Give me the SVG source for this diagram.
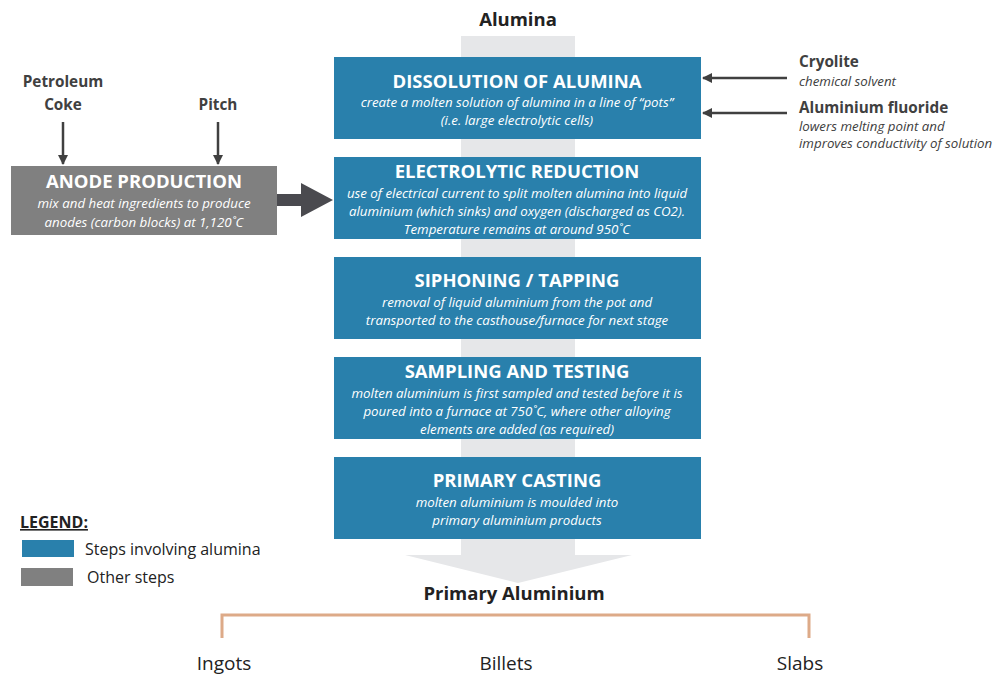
<svg xmlns="http://www.w3.org/2000/svg" width="999" height="675" viewBox="0 0 999 675">
<style>
.step{fill:#2980AC}
.other{fill:#808080}
.ttl{font-family:"Open Sans","Liberation Sans",sans-serif;font-weight:bold;font-size:18.5px;fill:#fff;text-anchor:middle}
.sub{font-family:"Open Sans","Liberation Sans",sans-serif;font-style:italic;font-size:13.3px;fill:#fff;text-anchor:middle}
.lbl{font-family:"Open Sans","Liberation Sans",sans-serif;font-weight:bold;font-size:15.3px;fill:#404040}
.lsub{font-family:"Open Sans","Liberation Sans",sans-serif;font-style:italic;font-size:13.3px;fill:#404040}
.big{font-family:"Open Sans","Liberation Sans",sans-serif;font-weight:bold;font-size:18.5px;fill:#222;text-anchor:middle}
.prod{font-family:"Open Sans","Liberation Sans",sans-serif;font-size:19px;fill:#222;text-anchor:middle}
.leg{font-family:"Open Sans","Liberation Sans",sans-serif;font-size:16px;fill:#222}
.conn{stroke:#404040;stroke-width:2.5;fill:none}
</style>
<defs>
<marker id="ah" viewBox="0 0 10 10" refX="9" refY="5" markerWidth="4" markerHeight="4" orient="auto" markerUnits="strokeWidth">
<path d="M0,0 L10,5 L0,10 z" fill="#404040"/>
</marker>
</defs>

<g id="flow-band">
<path d="M461,36 H575 V555 H632 L518,583 L405,555 H461 Z" fill="#E6E7E9"/>
</g>

<g id="alumina-label"><text class="big" x="518" y="26">Alumina</text></g>

<g id="dissolution">
<rect class="step" x="334" y="57" width="367" height="82"/>
<text class="ttl" x="517" y="88">DISSOLUTION OF ALUMINA</text>
<text class="sub" x="517" y="107">create a molten solution of alumina in a line of “pots”</text>
<text class="sub" x="517" y="125">(i.e. large electrolytic cells)</text>
</g>

<g id="electrolytic">
<rect class="step" x="334" y="157" width="367" height="82"/>
<text class="ttl" x="517" y="178">ELECTROLYTIC REDUCTION</text>
<text class="sub" x="517" y="198">use of electrical current to split molten alumina into liquid</text>
<text class="sub" x="517" y="216">aluminium (which sinks) and oxygen (discharged as CO2).</text>
<text class="sub" x="517" y="234">Temperature remains at around 950˚C</text>
</g>

<g id="siphoning">
<rect class="step" x="334" y="257" width="367" height="82"/>
<text class="ttl" x="517" y="287">SIPHONING / TAPPING</text>
<text class="sub" x="517" y="307">removal of liquid aluminium from the pot and</text>
<text class="sub" x="517" y="325">transported to the casthouse/furnace for next stage</text>
</g>

<g id="sampling">
<rect class="step" x="334" y="357" width="367" height="82"/>
<text class="ttl" x="517" y="378">SAMPLING AND TESTING</text>
<text class="sub" x="517" y="398">molten aluminium is first sampled and tested before it is</text>
<text class="sub" x="517" y="416">poured into a furnace at 750˚C, where other alloying</text>
<text class="sub" x="517" y="434">elements are added (as required)</text>
</g>

<g id="casting">
<rect class="step" x="334" y="457" width="367" height="82"/>
<text class="ttl" x="517" y="487">PRIMARY CASTING</text>
<text class="sub" x="517" y="507">molten aluminium is moulded into</text>
<text class="sub" x="517" y="525">primary aluminium products</text>
</g>

<g id="anode">
<rect class="other" x="11" y="166" width="266" height="69"/>
<text class="ttl" x="144" y="188">ANODE PRODUCTION</text>
<text class="sub" x="144" y="208">mix and heat ingredients to produce</text>
<text class="sub" x="144" y="227">anodes (carbon blocks) at 1,120˚C</text>
</g>

<g id="petroleum-coke">
<text class="lbl" x="63" y="87" text-anchor="middle">Petroleum</text>
<text class="lbl" x="63" y="110" text-anchor="middle">Coke</text>
</g>
<g id="pitch"><text class="lbl" x="218" y="110" text-anchor="middle">Pitch</text></g>

<g id="cryolite">
<text class="lbl" x="799" y="67">Cryolite</text>
<text class="lsub" x="799" y="86">chemical solvent</text>
</g>
<g id="aluminium-fluoride">
<text class="lbl" x="799" y="113">Aluminium fluoride</text>
<text class="lsub" x="799" y="131">lowers melting point and</text>
<text class="lsub" x="799" y="148">improves conductivity of solution</text>
</g>

<g id="primary-aluminium"><text class="big" x="514" y="600">Primary Aluminium</text></g>
<g id="ingots"><text class="prod" x="224" y="670">Ingots</text></g>
<g id="billets"><text class="prod" x="506" y="670">Billets</text></g>
<g id="slabs"><text class="prod" x="800" y="670">Slabs</text></g>

<g id="connectors">
<line class="conn" x1="63" y1="122" x2="63" y2="164" marker-end="url(#ah)"/>
<line class="conn" x1="218" y1="122" x2="218" y2="164" marker-end="url(#ah)"/>
<line class="conn" x1="787" y1="78" x2="703" y2="78" marker-end="url(#ah)"/>
<line class="conn" x1="787" y1="113" x2="703" y2="113" marker-end="url(#ah)"/>
<path d="M277,194 H301 V183 L333,200 L301,217 V206 H277 Z" fill="#4A4A4F"/>
<path d="M222,638 V615 H809 V638" stroke="#DDAA88" stroke-width="3" fill="none"/>
</g>

<g id="legend">
<text class="leg" x="20" y="528" font-weight="bold" font-size="15.5" text-decoration="underline">LEGEND:</text>
<rect class="step" x="22" y="540" width="52" height="17"/>
<text class="leg" x="85" y="555">Steps involving alumina</text>
<rect class="other" x="21" y="568" width="52" height="18"/>
<text class="leg" x="87" y="583">Other steps</text>
</g>
</svg>
